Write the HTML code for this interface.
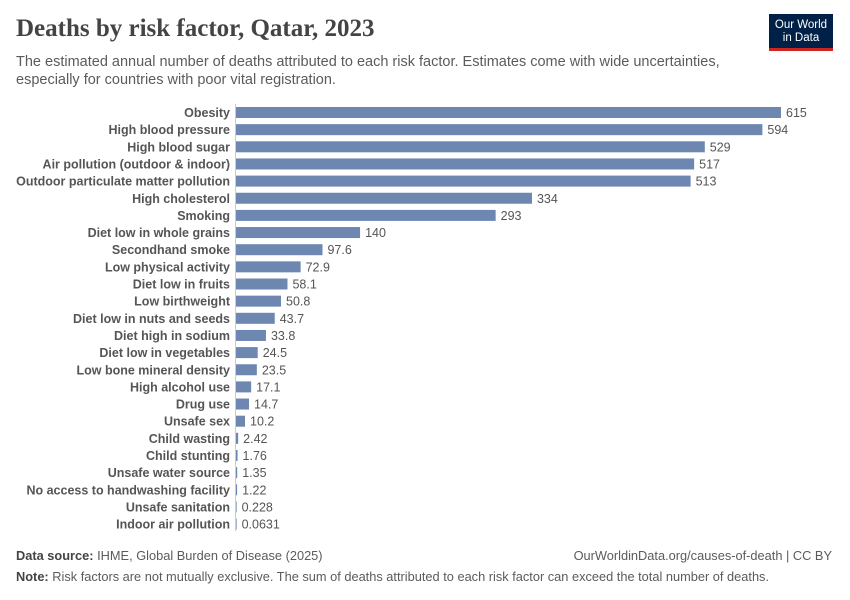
<!DOCTYPE html>
<html><head><meta charset="utf-8"><style>
body{margin:0;width:850px;height:600px;background:#fff;font-family:"Liberation Sans",sans-serif;position:relative;overflow:hidden}
.t{position:absolute;left:16px;top:15px;font-family:"Liberation Serif",serif;font-size:25px;font-weight:bold;color:#444}
.s{position:absolute;left:16px;top:53px;font-size:14.5px;color:#5b5b5b;line-height:18px;width:740px}
.logo{position:absolute;left:769px;top:14px;width:64px;height:37px;background:#002147;color:#fff;font-size:11.5px;text-align:center;line-height:13px;box-sizing:border-box;padding-top:5px;border-bottom:3px solid #ce261e}
.f{position:absolute;font-size:12.8px;color:#5b5b5b}
.f b{color:#444}
</style></head><body>
<div class="t">Deaths by risk factor, Qatar, 2023</div>
<div class="s">The estimated annual number of deaths attributed to each risk factor. Estimates come with wide uncertainties, especially for countries with poor vital registration.</div>
<div class="logo">Our World<br>in Data</div>
<svg id="c" width="850" height="600" style="position:absolute;left:0;top:0"></svg>
<div class="f" style="left:16px;top:548px"><b>Data source:</b> IHME, Global Burden of Disease (2025)</div>
<div class="f" style="right:18px;top:548px">OurWorldinData.org/causes-of-death | CC BY</div>
<div class="f" style="left:16px;top:569px"><b>Note:</b> Risk factors are not mutually exclusive. The sum of deaths attributed to each risk factor can exceed the total number of deaths.</div>
<script>
const categories=["Obesity","High blood pressure","High blood sugar","Air pollution (outdoor & indoor)","Outdoor particulate matter pollution","High cholesterol","Smoking","Diet low in whole grains","Secondhand smoke","Low physical activity","Diet low in fruits","Low birthweight","Diet low in nuts and seeds","Diet high in sodium","Diet low in vegetables","Low bone mineral density","High alcohol use","Drug use","Unsafe sex","Child wasting","Child stunting","Unsafe water source","No access to handwashing facility","Unsafe sanitation","Indoor air pollution"];
const values=[615,594,529,517,513,334,293,140,97.6,72.9,58.1,50.8,43.7,33.8,24.5,23.5,17.1,14.7,10.2,2.42,1.76,1.35,1.22,0.228,0.0631];
const labels=["615","594","529","517","513","334","293","140","97.6","72.9","58.1","50.8","43.7","33.8","24.5","23.5","17.1","14.7","10.2","2.42","1.76","1.35","1.22","0.228","0.0631"];
const svg=document.getElementById('c'),NS='http://www.w3.org/2000/svg';
const x0=236,x1=781,y0=112.5,step=17.15,bh=11;
const xs=v=>x0+v/615*(x1-x0);
const ys=i=>y0+i*step;
function mk(t,a){const e=document.createElementNS(NS,t);for(const k in a)e.setAttribute(k,a[k]);svg.appendChild(e);return e;}
const ax=mk('line',{x1:x0-0.5,x2:x0-0.5,y1:104,y2:531,stroke:'#ccc'});


categories.forEach((c,i)=>{
 const y=ys(i);
 const l=mk('text',{x:230,y:y+4.5,'text-anchor':'end','font-size':'12.5','font-weight':'bold',fill:'#555','font-family':'Liberation Sans'});l.textContent=c;
 
 
 const w=Math.max(xs(values[i])-x0,0.6);
 const r=mk('rect',{x:x0,y:y-bh/2,width:w,height:bh,fill:'#6d87b0'});
 
 
 const v=mk('text',{x:x0+w+5,y:y+4.5,'font-size':'12.5',fill:'#555','font-family':'Liberation Sans'});v.textContent=labels[i];
 
 
});
</script>
</body></html>
